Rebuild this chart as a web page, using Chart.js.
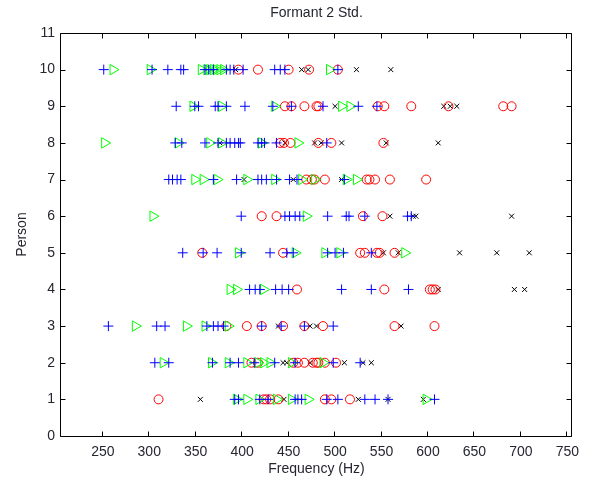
<!DOCTYPE html>
<html>
<head>
<meta charset="utf-8">
<script src="https://cdn.jsdelivr.net/npm/chart.js@4"></script>
<style>
  body { margin: 0; background: #fff; }
  canvas { display: block; }
</style>
</head>
<body>
<canvas id="formant_canvas" width="590" height="485"></canvas>
<script>
// persons on the y axis, one frequency list (Hz) per person, person 1 first
const persons = [1, 2, 3, 4, 5, 6, 7, 8, 9, 10];
const xTicks = [250, 300, 350, 400, 450, 500, 550, 600, 650, 700, 750];
const yTicks = [0, 1, 2, 3, 4, 5, 6, 7, 8, 9, 10, 11];
const chartTitle = 'Formant 2 Std.';

// blue +
const plusHz = [
    [392, 396, 419, 428, 457, 460, 464, 491, 503, 532, 543, 557, 607],
    [306, 321, 368, 387, 396, 413, 435, 457, 498, 527],
    [256, 308, 317, 362, 369, 374, 380, 421, 442, 467, 498],
    [408, 414, 419, 436, 443, 450, 507, 539, 579],
    [336, 358, 373, 399, 430, 448, 455, 492, 500, 509, 539],
    [399, 446, 451, 457, 462, 492, 512, 515, 532, 578, 582],
    [321, 325, 330, 334, 369, 394, 417, 421, 426, 437, 451, 459, 510],
    [328, 335, 360, 374, 383, 387, 392, 396, 398, 417, 421, 424, 437, 491],
    [329, 349, 353, 371, 374, 383, 403, 433, 453, 487, 525, 545],
    [251, 303, 320, 334, 337, 360, 364, 369, 383, 387, 391, 401, 435, 441, 446, 503]
];
// red o
const circleHz = [
    [310, 423, 426, 430, 439, 489, 496, 516],
    [410, 417, 455, 460, 467, 476, 480, 482, 489, 501],
    [383, 405, 421, 444, 467, 487, 564, 607],
    [459, 553, 602, 605, 608],
    [357, 444, 527, 532, 545, 548, 564],
    [421, 437, 530, 551],
    [469, 475, 478, 489, 534, 537, 543, 559, 598],
    [441, 445, 452, 482, 496, 552],
    [446, 453, 467, 480, 482, 546, 553, 582, 622, 681, 690],
    [396, 417, 450, 472, 503]
];
// green >
const triangleHz = [
    [394, 405, 418, 437, 453, 471, 598],
    [315, 367, 385, 405, 417, 423, 430, 453, 487],
    [285, 340, 360, 385],
    [387, 394, 423],
    [396, 457, 489, 505, 575],
    [304, 469],
    [349, 358, 373, 405, 435, 464, 478, 512, 523],
    [252, 331, 365, 378, 421, 460],
    [347, 378, 435, 507, 516],
    [261, 301, 356, 362, 365, 369, 372, 376, 380, 494]
];
// black x
const crossHz = [
    [355, 445, 525, 557, 595],
    [444, 448, 473, 510, 530, 539],
    [439, 473, 480, 571],
    [611, 693, 704],
    [552, 568, 634, 674, 709],
    [559, 584, 587, 690],
    [402, 455, 507],
    [376, 446, 478, 485, 507, 555, 611],
    [500, 617, 624, 631],
    [393, 464, 471, 523, 560]
];

function toPoints(rows) {
    const pts = [];
    rows.forEach((row, i) => {
        row.forEach(hz => pts.push({ x: hz, y: persons[i] }));
    });
    return pts;
}

const fontFam = '"Liberation Sans", Arial, sans-serif';
const textColor = '#262630';

// matlab style box with inward ticks on all four sides, title centred on the axes
const matlabBox = {
    id: 'matlabBox',
    afterDraw(chart) {
        const { ctx, chartArea: { left, right, top, bottom }, scales: { x, y } } = chart;
        const len = 5;
        ctx.save();
        ctx.strokeStyle = '#000';
        ctx.lineWidth = 1;
        ctx.beginPath();
        const l = left - 0.5, r = right - 0.5, t = top + 0.5, b = bottom + 0.5;
        ctx.rect(l, t, r - l, b - t);
        xTicks.forEach(v => {
            const px = Math.round(x.getPixelForValue(v)) - 0.5;
            ctx.moveTo(px, b); ctx.lineTo(px, b - len);
            ctx.moveTo(px, t); ctx.lineTo(px, t + len);
        });
        yTicks.forEach(v => {
            const py = Math.round(y.getPixelForValue(v)) + 0.5;
            ctx.moveTo(l, py); ctx.lineTo(l + len, py);
            ctx.moveTo(r, py); ctx.lineTo(r - len, py);
        });
        ctx.stroke();

        ctx.fillStyle = textColor;
        ctx.font = '14px ' + fontFam;
        ctx.textAlign = 'center';
        ctx.textBaseline = 'middle';
        ctx.fillText(chartTitle, (left + right) / 2, 13);
        ctx.restore();
    }
};

const ctx = document.getElementById('formant_canvas');
const myChart = new Chart(ctx, {
    type: 'scatter',
    data: {
        datasets: [
            {
                label: 'plus',
                data: toPoints(plusHz),
                pointStyle: 'cross',
                radius: 5,
                borderColor: '#0000ff',
                backgroundColor: 'transparent',
                borderWidth: 1,
                order: 1
            },
            {
                label: 'circle',
                data: toPoints(circleHz),
                pointStyle: 'circle',
                radius: 4.5,
                borderColor: '#ff0000',
                backgroundColor: 'transparent',
                borderWidth: 1,
                order: 3
            },
            {
                label: 'triangle',
                data: toPoints(triangleHz),
                pointStyle: 'triangle',
                rotation: 90,
                radius: 6,
                borderColor: '#00ff00',
                backgroundColor: 'transparent',
                borderWidth: 1,
                order: 2
            },
            {
                label: 'cross',
                data: toPoints(crossHz),
                pointStyle: 'crossRot',
                radius: 3.5,
                borderColor: '#000000',
                backgroundColor: 'transparent',
                borderWidth: 1,
                order: 4
            }
        ]
    },
    options: {
        responsive: false,
        animation: false,
        events: [],
        layout: { padding: { top: 33, right: 18, bottom: 0, left: 0 } },
        plugins: {
            legend: { display: false },
            tooltip: { enabled: false },
            title: { display: false }
        },
        scales: {
            x: {
                type: 'linear',
                min: 205,
                max: 755,
                afterBuildTicks: s => { s.ticks = xTicks.map(v => ({ value: v })); },
                afterFit: s => { s.height = 49; },
                grid: { display: false, drawTicks: false },
                border: { display: false },
                ticks: {
                    padding: 8,
                    color: textColor,
                    font: { family: fontFam, size: 14 },
                    maxRotation: 0
                },
                title: {
                    display: true,
                    text: 'Frequency (Hz)',
                    color: textColor,
                    font: { family: fontFam, size: 14 },
                    padding: { top: 0, bottom: 7 }
                }
            },
            y: {
                type: 'linear',
                min: 0,
                max: 11,
                afterBuildTicks: s => { s.ticks = yTicks.map(v => ({ value: v })); },
                afterFit: s => { s.width = 61; },
                grid: { display: false, drawTicks: false },
                border: { display: false },
                ticks: {
                    padding: 6,
                    color: textColor,
                    font: { family: fontFam, size: 14 }
                },
                title: {
                    display: true,
                    text: 'Person',
                    color: textColor,
                    font: { family: fontFam, size: 14 },
                    padding: { top: 14, bottom: 0 }
                }
            }
        }
    },
    plugins: [matlabBox]
});
</script>
</body>
</html>
